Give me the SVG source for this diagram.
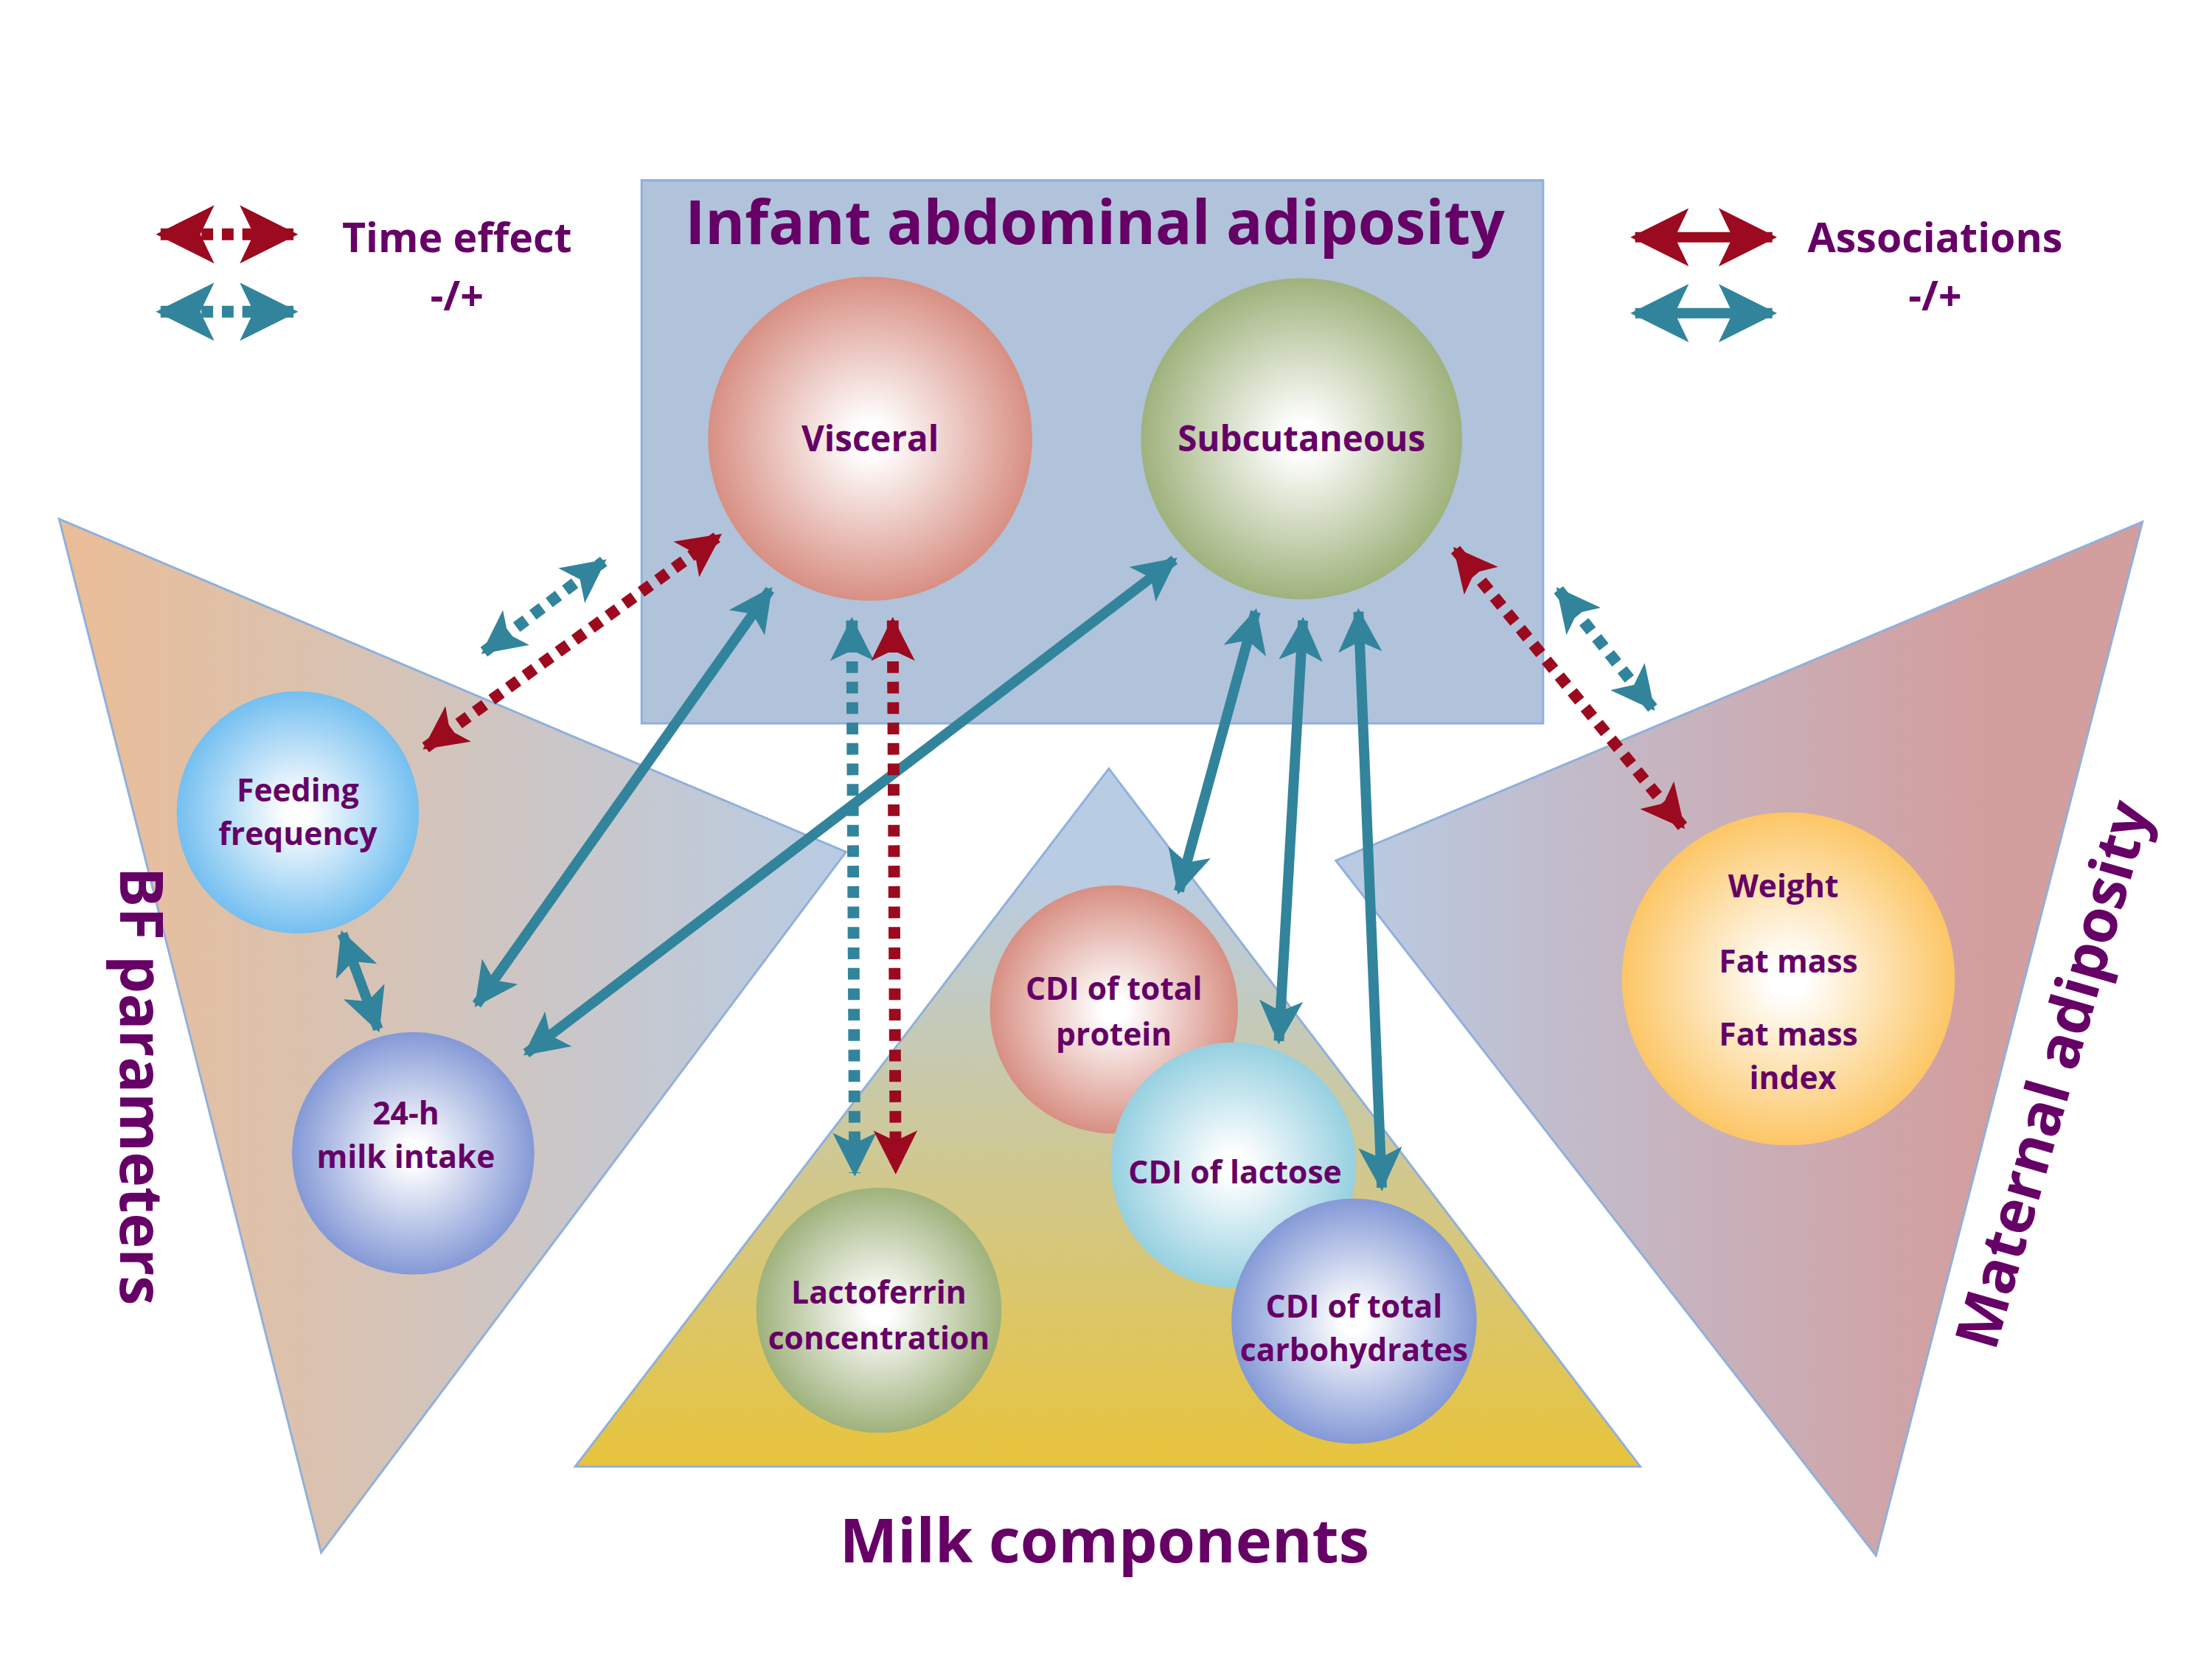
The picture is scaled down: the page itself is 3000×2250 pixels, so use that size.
<svg xmlns="http://www.w3.org/2000/svg" width="3000" height="2250" viewBox="0 0 3000 2250">
<style>
.t{font-family:"Open Sans","Liberation Sans",sans-serif;font-weight:bold;fill:#660066;text-anchor:middle}
.n{font-size:43px}
.red{stroke:#9b0a1e;fill:none}
.teal{stroke:#31849b;fill:none}
.sol{stroke-width:14}
.dot{stroke-width:16;stroke-dasharray:16 12}
.sh{stroke:#8fb0dc;stroke-width:3}
</style>
<defs>
<marker id="hr" markerUnits="userSpaceOnUse" markerWidth="60" markerHeight="60" refX="46" refY="25" orient="auto-start-reverse" viewBox="0 0 50 50"><path d="M0,0 L50,25 L0,50 L12,25 Z" fill="#9b0a1e"/></marker>
<marker id="ht" markerUnits="userSpaceOnUse" markerWidth="60" markerHeight="60" refX="46" refY="25" orient="auto-start-reverse" viewBox="0 0 50 50"><path d="M0,0 L50,25 L0,50 L12,25 Z" fill="#31849b"/></marker>
<marker id="hrL" markerUnits="userSpaceOnUse" markerWidth="80" markerHeight="80" refX="46" refY="25" orient="auto-start-reverse" viewBox="0 0 50 50"><path d="M0,0 L50,25 L0,50 L12,25 Z" fill="#9b0a1e"/></marker>
<marker id="htL" markerUnits="userSpaceOnUse" markerWidth="80" markerHeight="80" refX="46" refY="25" orient="auto-start-reverse" viewBox="0 0 50 50"><path d="M0,0 L50,25 L0,50 L12,25 Z" fill="#31849b"/></marker>
<linearGradient id="gL" x1="0" y1="0" x2="1" y2="0"><stop offset="0" stop-color="#ebbd96"/><stop offset="1" stop-color="#b8cce4"/></linearGradient>
<linearGradient id="gM" x1="0" y1="0" x2="0" y2="1"><stop offset="0.15" stop-color="#b8cce4"/><stop offset="1" stop-color="#e8c43c"/></linearGradient>
<linearGradient id="gR" x1="0" y1="0" x2="1" y2="0"><stop offset="0" stop-color="#b8cce4"/><stop offset="0.8" stop-color="#d39e9e"/></linearGradient>
<radialGradient id="cPink"><stop offset="0.1" stop-color="#fff"/><stop offset="1" stop-color="#d88f83"/></radialGradient>
<radialGradient id="cGreen"><stop offset="0.1" stop-color="#fff"/><stop offset="1" stop-color="#9fb27c"/></radialGradient>
<radialGradient id="cBlue"><stop offset="0.1" stop-color="#fff"/><stop offset="1" stop-color="#74bff0"/></radialGradient>
<radialGradient id="cPeri"><stop offset="0.1" stop-color="#fff"/><stop offset="1" stop-color="#8499d6"/></radialGradient>
<radialGradient id="cCyan"><stop offset="0.1" stop-color="#fff"/><stop offset="1" stop-color="#96d0e0"/></radialGradient>
<radialGradient id="cOr"><stop offset="0.1" stop-color="#fff"/><stop offset="1" stop-color="#fcc666"/></radialGradient>
</defs>
<rect width="3000" height="2250" fill="#fff"/>
<g transform="scale(0.99)">
<g id="bf-panel"><polygon points="81,711 1159,1167 440,2127" fill="url(#gL)" class="sh"/></g>
<g id="milk-panel"><polygon points="1519,1053 2247,2009 788,2009" fill="url(#gM)" class="sh"/></g>
<g id="maternal-panel"><polygon points="1830,1179 2935,715 2570,2131" fill="url(#gR)" class="sh"/></g>
<g id="infant-panel"><rect x="879" y="247" width="1235" height="744" fill="#b0c3da" class="sh"/>
<text class="t" x="1500" y="334" font-size="83">Infant abdominal adiposity</text></g>

<g id="visceral"><circle cx="1192" cy="601" r="222" fill="url(#cPink)"/><text class="t" x="1192" y="618" font-size="48">Visceral</text></g>
<g id="subcutaneous"><circle cx="1783" cy="601" r="220" fill="url(#cGreen)"/><text class="t" x="1783" y="618" font-size="48">Subcutaneous</text></g>
<g id="feeding"><circle cx="408" cy="1113" r="166" fill="url(#cBlue)"/><text class="t n" x="408" y="1098">Feeding</text><text class="t n" x="408" y="1158">frequency</text></g>
<g id="milkintake"><circle cx="566" cy="1580" r="166" fill="url(#cPeri)"/><text class="t n" x="556" y="1540">24-h</text><text class="t n" x="556" y="1600">milk intake</text></g>
<g id="lactoferrin"><circle cx="1204" cy="1795" r="168" fill="url(#cGreen)"/><text class="t n" x="1204" y="1786">Lactoferrin</text><text class="t n" x="1204" y="1848">concentration</text></g>
<g id="protein"><circle cx="1526" cy="1383" r="170" fill="url(#cPink)"/><text class="t n" x="1526" y="1370">CDI of total</text><text class="t n" x="1526" y="1432">protein</text></g>
<g id="lactose"><circle cx="1690" cy="1596" r="168" fill="url(#cCyan)"/><text class="t n" x="1692" y="1621">CDI of lactose</text></g>
<g id="carbs"><circle cx="1855" cy="1810" r="168" fill="url(#cPeri)"/><text class="t n" x="1855" y="1805">CDI of total</text><text class="t n" x="1855" y="1865">carbohydrates</text></g>
<g id="maternal-node"><circle cx="2450" cy="1341" r="228" fill="url(#cOr)"/>
<text class="t n" x="2443" y="1229">Weight</text><text class="t n" x="2450" y="1332">Fat mass</text><text class="t n" x="2450" y="1432">Fat mass</text><text class="t n" x="2456" y="1492">index</text></g>

<g id="labels">
<text class="t" font-size="56" x="626" y="345">Time effect</text><text class="t" font-size="56" x="626" y="425">-/+</text>
<text class="t" font-size="56" x="2651" y="345">Associations</text><text class="t" font-size="56" x="2651" y="425">-/+</text>
<text class="t" font-size="84" x="1513" y="2140">Milk components</text>
<text class="t" font-size="82" transform="translate(165,1488) rotate(90)">BF parameters</text>
<text class="t" font-size="82" transform="translate(2840,1480) rotate(-74)">Maternal adiposity</text>
</g>

<g id="connectors">
<line x1="220" y1="321" x2="402" y2="321" class="red dot" marker-start="url(#hrL)" marker-end="url(#hrL)"/>
<line x1="220" y1="427" x2="402" y2="427" class="teal dot" marker-start="url(#htL)" marker-end="url(#htL)"/>
<line x1="2240" y1="325" x2="2428" y2="325" class="red sol" marker-start="url(#hrL)" marker-end="url(#hrL)"/>
<line x1="2240" y1="429" x2="2428" y2="429" class="teal sol" marker-start="url(#htL)" marker-end="url(#htL)"/>
<line x1="583" y1="1024" x2="985" y2="734" class="red dot" marker-start="url(#hr)" marker-end="url(#hr)"/>
<line x1="663" y1="893" x2="827" y2="769" class="teal dot" marker-start="url(#ht)" marker-end="url(#ht)"/>
<line x1="653" y1="1376" x2="1055" y2="808" class="teal sol" marker-start="url(#ht)" marker-end="url(#ht)"/>
<line x1="721" y1="1443" x2="1609" y2="767" class="teal sol" marker-start="url(#ht)" marker-end="url(#ht)"/>
<line x1="1167" y1="850" x2="1171" y2="1607" class="teal dot" marker-start="url(#ht)" marker-end="url(#ht)"/>
<line x1="1223" y1="850" x2="1227" y2="1604" class="red dot" marker-start="url(#hr)" marker-end="url(#hr)"/>
<line x1="1720" y1="838" x2="1615" y2="1221" class="teal sol" marker-start="url(#ht)" marker-end="url(#ht)"/>
<line x1="1785" y1="850" x2="1752" y2="1426" class="teal sol" marker-start="url(#ht)" marker-end="url(#ht)"/>
<line x1="1861" y1="838" x2="1893" y2="1627" class="teal sol" marker-start="url(#ht)" marker-end="url(#ht)"/>
<line x1="1994" y1="753" x2="2305" y2="1132" class="red dot" marker-start="url(#hr)" marker-end="url(#hr)"/>
<line x1="2135" y1="808" x2="2264" y2="970" class="teal dot" marker-start="url(#ht)" marker-end="url(#ht)"/>
<line x1="469" y1="1279" x2="518" y2="1410" class="teal sol" marker-start="url(#ht)" marker-end="url(#ht)"/>
</g>
</g>
</svg>
